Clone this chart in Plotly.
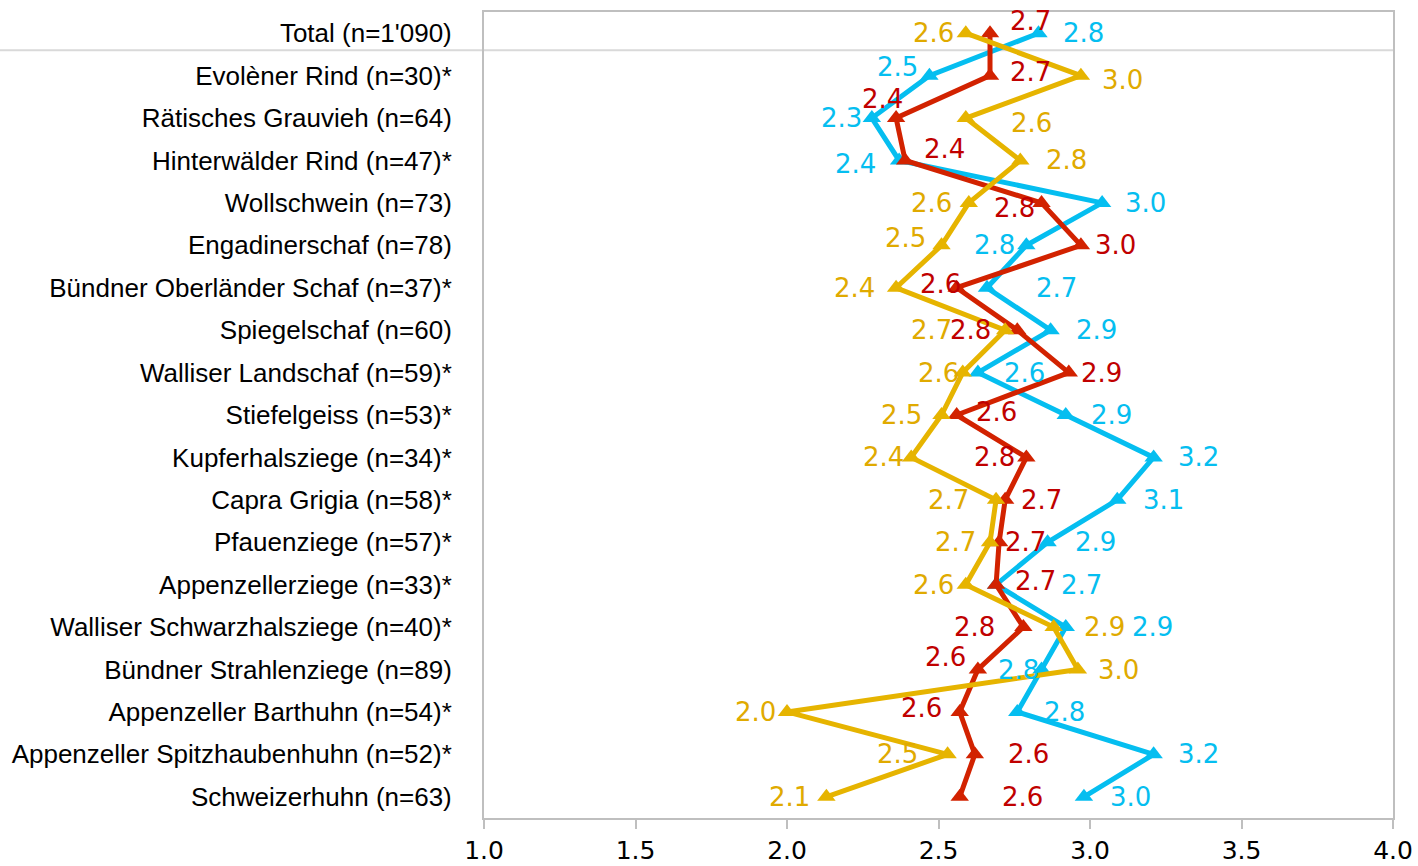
import plotly.graph_objects as go

categories = [
    "Total (n=1'090)",
    "Evolèner Rind (n=30)*",
    "Rätisches Grauvieh (n=64)",
    "Hinterwälder Rind (n=47)*",
    "Wollschwein (n=73)",
    "Engadinerschaf (n=78)",
    "Bündner Oberländer Schaf (n=37)*",
    "Spiegelschaf (n=60)",
    "Walliser Landschaf (n=59)*",
    "Stiefelgeiss (n=53)*",
    "Kupferhalsziege (n=34)*",
    "Capra Grigia (n=58)*",
    "Pfauenziege (n=57)*",
    "Appenzellerziege (n=33)*",
    "Walliser Schwarzhalsziege (n=40)*",
    "Bündner Strahlenziege (n=89)",
    "Appenzeller Barthuhn (n=54)*",
    "Appenzeller Spitzhaubenhuhn (n=52)*",
    "Schweizerhuhn (n=63)",
]

blue_values = [2.83, 2.47, 2.28, 2.37, 3.04, 2.79, 2.66, 2.87, 2.63, 2.92, 3.21, 3.09,
               2.86, 2.69, 2.92, 2.84, 2.76, 3.21, 2.98]
red_values = [2.67, 2.67, 2.36, 2.39, 2.84, 2.97, 2.56, 2.76, 2.93, 2.56, 2.79, 2.72,
              2.70, 2.69, 2.78, 2.63, 2.57, 2.62, 2.57]
gold_values = [2.59, 2.97, 2.59, 2.77, 2.60, 2.51, 2.36, 2.72, 2.58, 2.51, 2.41, 2.69,
               2.67, 2.59, 2.88, 2.96, 2.00, 2.53, 2.13]

x_ticks = [1.0, 1.5, 2.0, 2.5, 3.0, 3.5, 4.0]

# label placement (pixel offsets from the marker), style only
blue_dx = [45, -32, -30, -44, 43, -32, 70, 46, 47, 46, 45, 46, 48, 85, 87, -23, 47, 45, 47]
blue_dy = [0, 9, 0, -4, 0, 0, 0, 0, 0, 0, 0, 0, 0, 0, 0, 0, 0, 0, 0]
red_dx = [40, 40, -14, 39, -27, 35, -16, -47, 33, 40, -32, 36, 26, 39, -49, -32, -38, 54, 63]
red_dy = [12, 4, 19, 11, -5, 0, 4, 0, 0, 3, 0, 0, 0, 4, 0, 13, 4, 0, 0]
gold_dx = [-32, 42, 66, 46, -37, -36, -42, -74, -24, -40, -28, -48, -35, -32, 51, 41, -32, -50, -37]
gold_dy = [0, -4, -5, 0, 0, 7, 0, 0, 0, 0, 0, 0, 0, 0, 0, 0, 0, 0, 0]

series = [
    ("blue", blue_values, "#05BEF0", "#05BEF0", blue_dx, blue_dy),
    ("red", red_values, "#D22200", "#C00000", red_dx, red_dy),
    ("gold", gold_values, "#E6B400", "#E0AA00", gold_dx, gold_dy),
]

fig = go.Figure()
annotations = []
for name, vals, col, tcol, dxs, dys in series:
    fig.add_trace(go.Scatter(
        x=vals, y=categories, mode="lines+markers", name=name,
        line=dict(color=col, width=5),
        marker=dict(symbol="triangle-up", size=16, color=col),
        showlegend=False, cliponaxis=False,
    ))
    for v, c, dx, dy in zip(vals, categories, dxs, dys):
        annotations.append(dict(
            x=v, y=c, xref="x", yref="y", text=f"{v:.1f}", showarrow=False,
            xshift=dx, yshift=dy, xanchor="center", yanchor="middle",
            font=dict(family="DejaVu Sans", size=26, color=tcol),
        ))

fig.update_layout(
    width=1418, height=866,
    margin=dict(l=484, r=25, t=12, b=48),
    paper_bgcolor="white", plot_bgcolor="white",
    annotations=annotations,
    shapes=[dict(type="line", xref="paper", yref="y", x0=-484 / 909, x1=1,
                 y0=0.4, y1=0.4, line=dict(color="#D9D9D9", width=2), layer="below")],
)
fig.update_xaxes(
    range=[1.0, 4.0], tickvals=x_ticks, ticktext=[f"{t:.1f}" for t in x_ticks],
    showgrid=False, zeroline=False, showline=True, linecolor="#BFBFBF", linewidth=2,
    mirror=True, ticks="outside", ticklen=9, tickwidth=2, tickcolor="#BFBFBF",
    tickfont=dict(family="DejaVu Sans", size=25, color="black"), automargin=False,
)
fig.update_yaxes(
    type="category", categoryorder="array", categoryarray=categories,
    range=[18.5, -0.5], showgrid=False, zeroline=False, showline=True,
    linecolor="#BFBFBF", linewidth=2, mirror=True, ticks="",
    ticklabelstandoff=25, automargin=False,
    tickfont=dict(family="Liberation Sans", size=26, color="black"),
)

fig.write_html("out.html", config={"displayModeBar": False},
               post_script="document.body.style.margin='0';document.body.style.overflow='hidden';")
